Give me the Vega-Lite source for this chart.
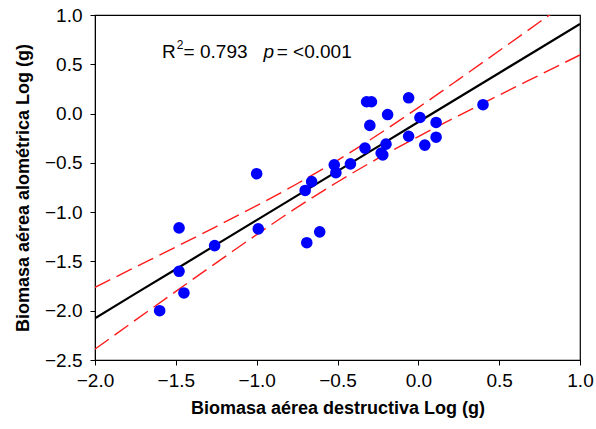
{
  "$schema": "https://vega.github.io/schema/vega-lite/v6.json",
  "autosize": "none",
  "width": 485,
  "height": 345,
  "padding": {"left": 95, "top": 15, "right": 16, "bottom": 69},
  "background": "white",
  "config": {
    "font": "Liberation Sans",
    "view": {"stroke": "black", "strokeWidth": 1.2},
    "axis": {
      "grid": false,
      "domainColor": "black",
      "tickColor": "black",
      "tickSize": 5,
      "labelColor": "black",
      "titleColor": "black",
      "labelFontSize": 19,
      "titleFontSize": 18,
      "titleFontWeight": "bold",
      "labelFont": "Liberation Sans",
      "titleFont": "Liberation Sans",
      "labelFlush": false
    }
  },
  "datasets": {
    "points": [
      {"destructiva": -1.60, "alometrica": -2.00},
      {"destructiva": -1.45, "alometrica": -1.82},
      {"destructiva": -1.48, "alometrica": -1.60},
      {"destructiva": -1.48, "alometrica": -1.16},
      {"destructiva": -1.26, "alometrica": -1.34},
      {"destructiva": -1.00, "alometrica": -0.61},
      {"destructiva": -0.99, "alometrica": -1.17},
      {"destructiva": -0.69, "alometrica": -1.31},
      {"destructiva": -0.61, "alometrica": -1.20},
      {"destructiva": -0.70, "alometrica": -0.78},
      {"destructiva": -0.66, "alometrica": -0.69},
      {"destructiva": -0.52, "alometrica": -0.52},
      {"destructiva": -0.51, "alometrica": -0.60},
      {"destructiva": -0.42, "alometrica": -0.51},
      {"destructiva": -0.33, "alometrica": -0.35},
      {"destructiva": -0.23, "alometrica": -0.40},
      {"destructiva": -0.22, "alometrica": -0.42},
      {"destructiva": -0.20, "alometrica": -0.31},
      {"destructiva": -0.32, "alometrica": 0.12},
      {"destructiva": -0.29, "alometrica": 0.12},
      {"destructiva": -0.30, "alometrica": -0.12},
      {"destructiva": -0.19, "alometrica": -0.01},
      {"destructiva": -0.06, "alometrica": 0.16},
      {"destructiva": 0.01, "alometrica": -0.04},
      {"destructiva": -0.06, "alometrica": -0.23},
      {"destructiva": 0.04, "alometrica": -0.32},
      {"destructiva": 0.11, "alometrica": -0.09},
      {"destructiva": 0.11, "alometrica": -0.24},
      {"destructiva": 0.40, "alometrica": 0.09}
    ],
    "fit": [
      {"x": -2.0, "fit": -2.076, "upper": -1.762, "lower": -2.390},
      {"x": -1.75, "fit": -1.827, "upper": -1.558, "lower": -2.096},
      {"x": -1.5, "fit": -1.579, "upper": -1.354, "lower": -1.804},
      {"x": -1.25, "fit": -1.330, "upper": -1.146, "lower": -1.514},
      {"x": -1.0, "fit": -1.081, "upper": -0.934, "lower": -1.228},
      {"x": -0.75, "fit": -0.832, "upper": -0.712, "lower": -0.952},
      {"x": -0.5, "fit": -0.584, "upper": -0.474, "lower": -0.694},
      {"x": -0.25, "fit": -0.335, "upper": -0.215, "lower": -0.455},
      {"x": 0.0, "fit": -0.086, "upper": 0.061, "lower": -0.233},
      {"x": 0.25, "fit": 0.163, "upper": 0.347, "lower": -0.021},
      {"x": 0.5, "fit": 0.412, "upper": 0.637, "lower": 0.187},
      {"x": 0.75, "fit": 0.660, "upper": 0.929, "lower": 0.391},
      {"x": 1.0, "fit": 0.909, "upper": 1.223, "lower": 0.595}
    ]
  },
  "encoding": {
    "x": {
      "type": "quantitative",
      "scale": {"domain": [-2, 1], "nice": false, "zero": false},
      "axis": {
        "title": "Biomasa aérea destructiva Log (g)",
        "values": [-2, -1.5, -1, -0.5, 0, 0.5, 1],
        "format": ".1f",
        "labelPadding": 6,
        "titlePadding": 9
      }
    },
    "y": {
      "type": "quantitative",
      "scale": {"domain": [-2.5, 1], "nice": false, "zero": false},
      "axis": {
        "title": "Biomasa aérea alométrica Log (g)",
        "values": [-2.5, -2, -1.5, -1, -0.5, 0, 0.5, 1],
        "format": ".1f",
        "labelPadding": 8,
        "titlePadding": 12
      }
    }
  },
  "layer": [
    {
      "data": {"name": "fit"},
      "mark": {"type": "line", "color": "#ff1a1a", "strokeWidth": 1.4, "strokeDash": [17, 7], "clip": true, "interpolate": "monotone"},
      "encoding": {"x": {"field": "x"}, "y": {"field": "upper"}}
    },
    {
      "data": {"name": "fit"},
      "mark": {"type": "line", "color": "#ff1a1a", "strokeWidth": 1.4, "strokeDash": [17, 7], "clip": true, "interpolate": "monotone"},
      "encoding": {"x": {"field": "x"}, "y": {"field": "lower"}}
    },
    {
      "data": {"name": "fit"},
      "mark": {"type": "line", "color": "black", "strokeWidth": 2.2, "clip": true},
      "encoding": {"x": {"field": "x"}, "y": {"field": "fit"}}
    },
    {
      "data": {"name": "points"},
      "mark": {"type": "circle", "color": "#0000ff", "opacity": 1, "size": 135},
      "encoding": {"x": {"field": "destructiva"}, "y": {"field": "alometrica"}}
    },
    {
      "data": {"values": [{}]},
      "mark": {"type": "text", "text": "R", "align": "left", "baseline": "middle", "fontSize": 19, "font": "Liberation Sans", "color": "black"},
      "encoding": {"x": {"datum": -1.585}, "y": {"datum": 0.625}}
    },
    {
      "data": {"values": [{}]},
      "mark": {"type": "text", "text": "2", "align": "left", "baseline": "middle", "fontSize": 12, "dy": -7, "font": "Liberation Sans", "color": "black"},
      "encoding": {"x": {"datum": -1.495}, "y": {"datum": 0.625}}
    },
    {
      "data": {"values": [{}]},
      "mark": {"type": "text", "text": "= 0.793", "align": "left", "baseline": "middle", "fontSize": 19, "font": "Liberation Sans", "color": "black"},
      "encoding": {"x": {"datum": -1.452}, "y": {"datum": 0.625}}
    },
    {
      "data": {"values": [{}]},
      "mark": {"type": "text", "text": "p", "align": "left", "baseline": "middle", "fontSize": 19, "fontStyle": "italic", "font": "Liberation Sans", "color": "black"},
      "encoding": {"x": {"datum": -0.958}, "y": {"datum": 0.625}}
    },
    {
      "data": {"values": [{}]},
      "mark": {"type": "text", "text": "= <0.001", "align": "left", "baseline": "middle", "fontSize": 19, "font": "Liberation Sans", "color": "black"},
      "encoding": {"x": {"datum": -0.876}, "y": {"datum": 0.625}}
    }
  ]
}
